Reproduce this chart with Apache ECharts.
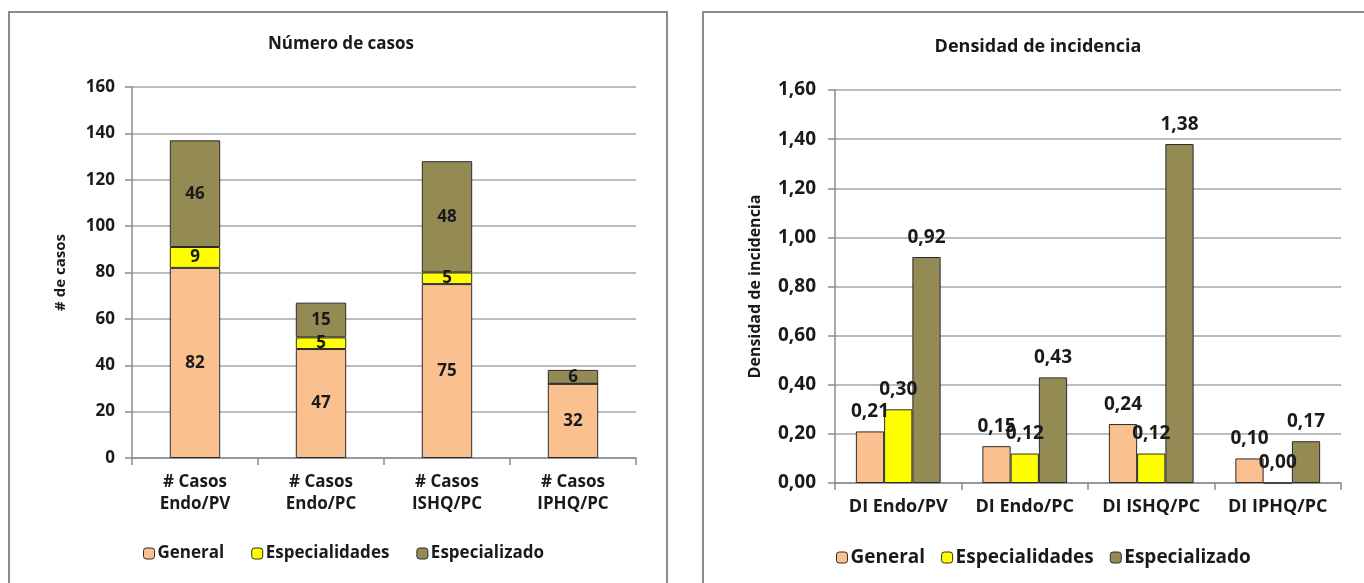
<!DOCTYPE html>
<html>
<head>
<meta charset="utf-8">
<script src="https://cdn.jsdelivr.net/npm/echarts@6/dist/echarts.min.js"></script>
<style>
  html, body { margin: 0; padding: 0; background: #fff; }
  #chart { width: 1364px; height: 583px; }
</style>
</head>
<body>
<div id="chart"></div>
<script>
// Number of cases per surgical-site group (stacked)
const caseCategories = ['# Casos\nEndo/PV', '# Casos\nEndo/PC', '# Casos\nISHQ/PC', '# Casos\nIPHQ/PC'];
const caseGeneral = [82, 47, 75, 32];
const caseEspecialidades = [9, 5, 5, 0];
const caseEspecializado = [46, 15, 48, 6];
const caseTicks = { min: 0, max: 160, interval: 20 };

// Incidence density per group (grouped)
const diCategories = ['DI Endo/PV', 'DI Endo/PC', 'DI ISHQ/PC', 'DI IPHQ/PC'];
const diGeneral = [0.21, 0.15, 0.24, 0.10];
const diEspecialidades = [0.30, 0.12, 0.12, 0.00];
const diEspecializado = [0.92, 0.43, 1.38, 0.17];
const diTicks = { min: 0, max: 1.6, interval: 0.2 };

const seriesNames = ['General', 'Especialidades', 'Especializado'];
const colors = ['#FAC090', '#FFFF00', '#948A54'];

const FONT = '"Open Sans", Lato, sans-serif';
const TXT = '#1a1a1a';
const FS_L = 17;   // text size, cases panel
const FS_R = 19;   // text size, density panel
const comma2 = v => v.toFixed(2).replace('.', ',');

const chart = echarts.init(document.getElementById('chart'), null, { renderer: 'canvas' });

const barStyle = i => ({ color: colors[i], borderColor: '#2b2b2b', borderWidth: 1 });
const txt = (size, extra) => Object.assign({ fontFamily: FONT, fontWeight: 'bold', fontSize: size, color: TXT }, extra || {});

const leftSeries = [caseGeneral, caseEspecialidades, caseEspecializado].map((d, i) => ({
  name: seriesNames[i],
  type: 'bar',
  stack: 'casos',
  xAxisIndex: 0, yAxisIndex: 0,
  data: d,
  barWidth: '40%',
  itemStyle: barStyle(i),
  label: txt(FS_L, {
    show: true, position: 'inside',
    formatter: p => (p.value === 0 ? '' : String(p.value))
  })
}));

const rightSeries = [diGeneral, diEspecialidades, diEspecializado].map((d, i) => ({
  name: seriesNames[i],
  type: 'bar',
  xAxisIndex: 1, yAxisIndex: 1,
  data: d,
  barGap: '0%',
  barCategoryGap: '33%',
  itemStyle: barStyle(i),
  label: txt(FS_R, {
    show: true, position: 'top', distance: 10,
    formatter: p => comma2(p.value)
  })
}));

const axisLine = { show: true, lineStyle: { color: '#8c8c8c', width: 1.5 } };
const axisTick = { show: true, length: 7, lineStyle: { color: '#8c8c8c', width: 1.5 } };
const gridLine = { show: true, lineStyle: { color: '#a6a6a6', width: 1.5 } };

const legendBase = size => ({
  data: seriesNames, itemWidth: 11, itemHeight: 11,
  textStyle: txt(size, { padding: [0, 0, 0, -2] }),
  itemStyle: { borderColor: '#2b2b2b', borderWidth: 1 }
});

chart.setOption({
  animation: false,
  backgroundColor: '#fff',
  textStyle: { fontFamily: FONT },
  title: [
    { text: 'Número de casos', left: 336, top: 31, textAlign: 'center',
      textStyle: txt(17) },
    { text: 'Densidad de incidencia', left: 1033, top: 33, textAlign: 'center',
      textStyle: txt(18) }
  ],
  legend: [
    Object.assign(legendBase(FS_L), { left: 138, top: 540, itemGap: 27 }),
    Object.assign(legendBase(FS_R), { left: 831, top: 543, itemGap: 16 })
  ],
  grid: [
    { left: 132, right: 728, top: 87, bottom: 125 },
    { left: 835, right: 23, top: 90, bottom: 100 }
  ],
  xAxis: [
    { type: 'category', gridIndex: 0, data: caseCategories,
      axisLine, axisTick,
      axisLabel: txt(FS_L, { margin: 13, lineHeight: 22, interval: 0 }) },
    { type: 'category', gridIndex: 1, data: diCategories,
      axisLine, axisTick,
      axisLabel: txt(18, { margin: 15, interval: 0 }) }
  ],
  yAxis: [
    { type: 'value', gridIndex: 0, min: caseTicks.min, max: caseTicks.max, interval: caseTicks.interval,
      name: '# de casos', nameLocation: 'middle', nameGap: 64, nameRotate: 90,
      nameTextStyle: txt(15),
      axisLine, axisTick, splitLine: gridLine,
      axisLabel: txt(FS_L, { margin: 17 }) },
    { type: 'value', gridIndex: 1, min: diTicks.min, max: diTicks.max, interval: diTicks.interval,
      name: 'Densidad de incidencia', nameLocation: 'middle', nameGap: 72, nameRotate: 90,
      nameTextStyle: txt(16),
      axisLine, axisTick, splitLine: gridLine,
      axisLabel: txt(FS_R, { margin: 19, formatter: v => comma2(v) }) }
  ],
  graphic: [
    { type: 'rect', shape: { x: 9, y: 12, width: 658, height: 620 },
      style: { fill: 'none', stroke: '#8c8c8c', lineWidth: 2 }, silent: true, z: -1 },
    { type: 'rect', shape: { x: 703, y: 12, width: 700, height: 620 },
      style: { fill: 'none', stroke: '#8c8c8c', lineWidth: 2 }, silent: true, z: -1 }
  ],
  series: leftSeries.concat(rightSeries)
});
</script>
</body>
</html>
